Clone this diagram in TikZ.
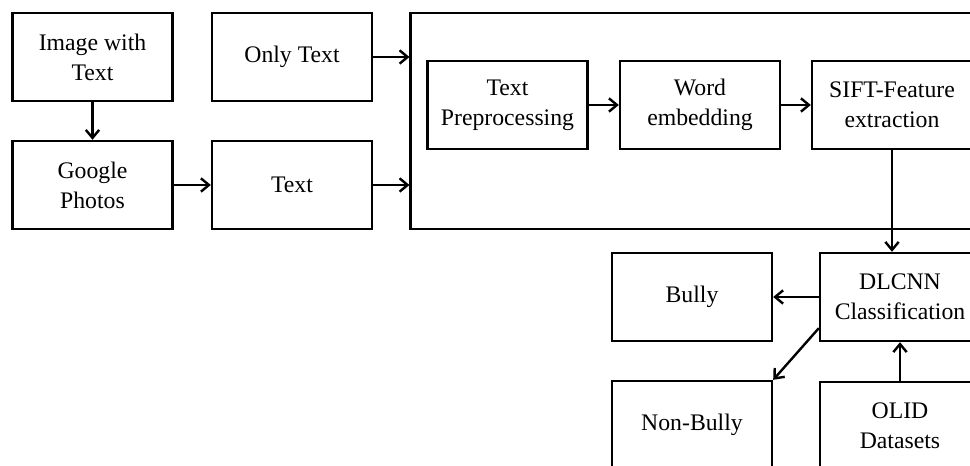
\documentclass[tikz,border=0pt]{standalone}
\usepackage{fontspec}
\setmainfont{Liberation Serif}
\usepackage{tikz}
\usetikzlibrary{arrows.meta}
\tikzset{%
    stage/.style={%
        draw, line width=1.8pt, align=center,
        minimum width=120pt, minimum height=66pt,
        font=\fontsize{17.8}{22.5}\selectfont
    },
    flow/.style={%
        line width=1.8pt,
        -{Straight Barb[length=6pt,width=10pt,line width=1.8pt]}
    }
}

\begin{document}
\begin{tikzpicture}[x=0.75pt,y=-0.75pt]
    \useasboundingbox (0,0) rectangle (970,466);
    \clip (0,0) rectangle (970,466);
    % input side
    \node[stage] (img) at (92.5,57) {Image with\\Text};
    \node[stage] (only) at (292,57) {Only Text};
    \node[stage] (gphotos) at (92.5,185) {Google\\Photos};
    \node[stage] (txt) at (292,185) {Text};
    % processing block
    \node[stage, minimum width=434pt, minimum height=162pt] (proc) at (700,121) {};
    \node[stage] (prep) at (507.5,105) {Text\\Preprocessing};
    \node[stage] (embed) at (700,105) {Word\\embedding};
    \node[stage] (sift) at (892,105) {SIFT-Feature\\extraction};
    % classification
    \node[stage] (dlcnn) at (900,297) {DLCNN\\Classification};
    \node[stage] (bully) at (692,297) {Bully};
    \node[stage] (nonbully) at (692,425) {Non-Bully};
    \node[stage] (olid) at (900,426) {OLID\\Datasets};

    \draw[flow] (img) -- (gphotos);
    \draw[flow] (gphotos) -- (txt);
    \draw[flow] (only.east) -- (only.east -| proc.west);
    \draw[flow] (txt.east) -- (txt.east -| proc.west);
    \draw[flow] (prep) -- (embed);
    \draw[flow] (embed) -- (sift);
    \draw[flow] (sift.south) -- (sift.south |- dlcnn.north);
    \draw[flow] (dlcnn) -- (bully);
    \draw[flow] ([yshift=10.5pt]dlcnn.south west) -- (nonbully.north east);
    \draw[flow] (olid.north) -- (olid.north |- dlcnn.south);
\end{tikzpicture}
\end{document}
